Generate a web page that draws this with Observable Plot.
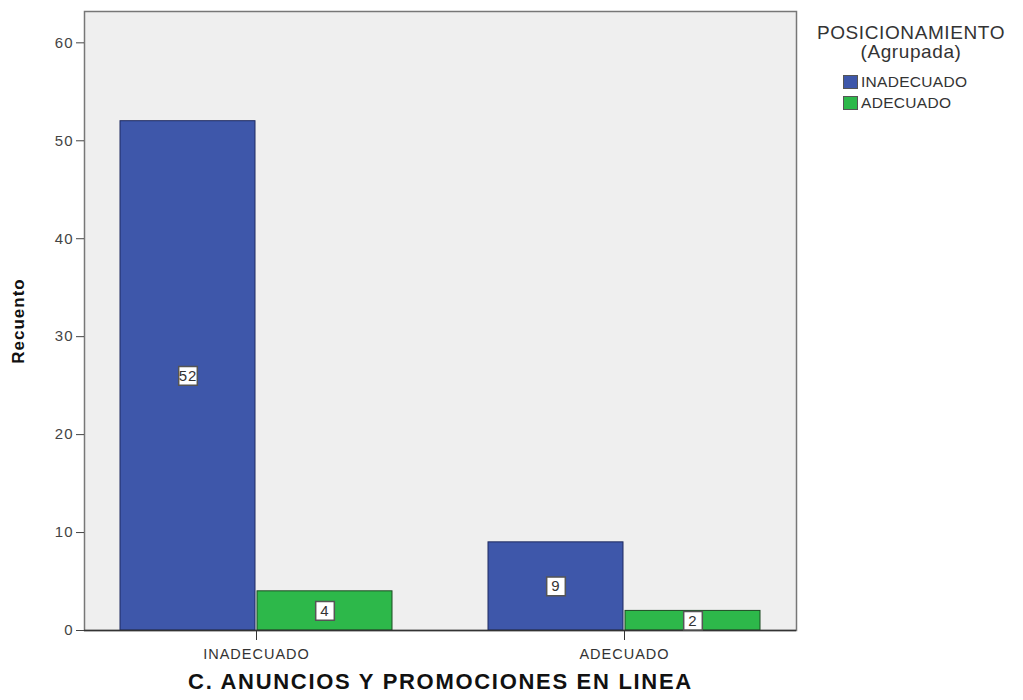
<!DOCTYPE html>
<html>
<head>
<meta charset="utf-8">
<script src="https://cdn.jsdelivr.net/npm/d3@7"></script>
<script src="https://cdn.jsdelivr.net/npm/@observablehq/plot@0.6"></script>
<style>
  body { margin: 0; background: #fff; font-family: "Liberation Sans", Arial, sans-serif; }
  #wrap { position: relative; width: 1023px; height: 700px; }
  #legend { position: absolute; left: 800px; top: 23px; width: 222px; color: #333; font-size: 19px; letter-spacing: 0.6px; }
  #legend .t { text-align: center; line-height: 19px; }
  #legend .items { margin-left: 43px; margin-top: 10px; font-size: 15.5px; letter-spacing: 0.3px; }
  #legend .it { display: flex; align-items: center; height: 21px; }
  #legend .sw { width: 15px; height: 14px; margin-right: 3px; border: 1px solid #555; box-sizing: border-box; }
  svg text { letter-spacing: 1px; }
  svg text.xtitle { letter-spacing: 1.7px; }
</style>
</head>
<body>
<div id="wrap"></div>
<script>
const categories = ["INADECUADO", "ADECUADO"];
const series = ["INADECUADO", "ADECUADO"];
const valuesInadecuado = [52, 9];
const valuesAdecuado = [4, 2];
const yTicks = [0, 10, 20, 30, 40, 50, 60];
const colors = ["#3e57aa", "#2db84a"];
const xTitle = "C. ANUNCIOS Y PROMOCIONES EN LINEA";
const yTitle = "Recuento";
const legendTitle = ["POSICIONAMIENTO", "(Agrupada)"];

const data = [];
categories.forEach((c, i) => {
  data.push({cat: c, serie: series[0], value: valuesInadecuado[i]});
  data.push({cat: c, serie: series[1], value: valuesAdecuado[i]});
});
const inad = data.filter(d => d.serie === series[0]);
const adec = data.filter(d => d.serie === series[1]);
const half = 137;

const chart = Plot.plot({
  width: 1023,
  height: 700,
  marginLeft: 84,
  marginRight: 227,
  marginTop: 11,
  marginBottom: 70,
  style: {fontFamily: "'Liberation Sans', Arial, sans-serif", background: "#fff"},
  x: {type: "band", domain: categories, paddingInner: 0.26, paddingOuter: 0.095, label: null},
  y: {domain: [0, 63.2], label: null},
  marks: [
    Plot.frame({fill: "#efefef", stroke: "#777", strokeWidth: 1.5}),
    Plot.barY(inad, {x: "cat", y: "value", fill: colors[0], stroke: "#1e2a60", strokeWidth: 1, insetRight: half}),
    Plot.barY(adec, {x: "cat", y: "value", fill: colors[1], stroke: "#1d4a22", strokeWidth: 1, insetLeft: half}),
    Plot.ruleY([0], {stroke: "#333", strokeWidth: 1.5}),
    Plot.dot(inad, {x: "cat", y: d => d.value / 2, dx: -half / 2, symbol: "square", r: 10.5, fill: "#fff", stroke: "#555", strokeWidth: 1.5}),
    Plot.dot(adec, {x: "cat", y: d => d.value / 2, dx: half / 2, symbol: "square", r: 10.5, fill: "#fff", stroke: "#555", strokeWidth: 1.5}),
    Plot.text(inad, {x: "cat", y: d => d.value / 2, dx: -half / 2, text: "value", fontSize: 15, fill: "#333"}),
    Plot.text(adec, {x: "cat", y: d => d.value / 2, dx: half / 2, text: "value", fontSize: 15, fill: "#333"}),
    Plot.axisY({ticks: yTicks, tickSize: 8, tickPadding: 3, fontSize: 15, color: "#444", label: null}),
    Plot.axisX({tickSize: 10, tickPadding: 8, fontSize: 14.5, color: "#333", label: null}),
    Plot.text([yTitle], {frameAnchor: "left", textAnchor: "middle", dx: -66, rotate: -90, fontSize: 17, fontWeight: "bold", fill: "#111"}),
    Plot.text([xTitle], {frameAnchor: "bottom", dy: 58, fontSize: 22, fontWeight: "bold", fill: "#111", className: "xtitle"})
  ]
});
document.getElementById("wrap").appendChild(chart);
chart.querySelectorAll("g.xtitle text").forEach(t => t.classList.add("xtitle"));

const leg = document.createElement("div");
leg.id = "legend";
leg.innerHTML = `<div class="t">${legendTitle[0]}</div><div class="t">${legendTitle[1]}</div>` +
  `<div class="items">` + series.map((s, i) =>
    `<div class="it"><span class="sw" style="background:${colors[i]}"></span>${s}</div>`).join("") + `</div>`;
document.getElementById("wrap").appendChild(leg);
</script>
</body>
</html>
